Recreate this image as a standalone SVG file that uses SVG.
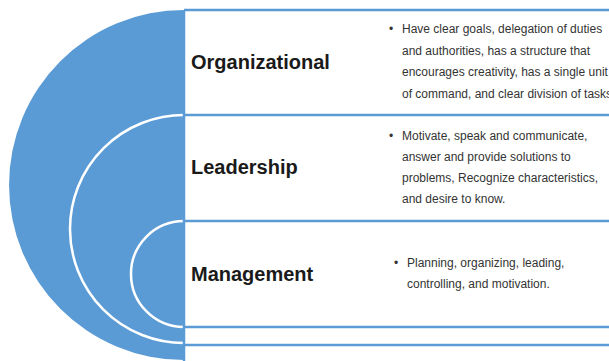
<svg xmlns="http://www.w3.org/2000/svg" width="609" height="361" viewBox="0 0 609 361">
<style>
.title{font-family:"Liberation Sans",Arial,sans-serif;font-size:20px;font-weight:bold;fill:#1a1a1a}
.body{font-family:"Liberation Sans",Arial,sans-serif;font-size:12px;fill:#333333}
.ring{fill:none;stroke:#ffffff;stroke-width:2.5}
.rule{stroke:#5B9BD5;stroke-width:2.5;fill:none}
</style>
<rect width="609" height="361" fill="#ffffff"/>
<g id="disc">
<path d="M184,10 A175,175 0 0 0 184,360 Z" fill="#5B9BD5"/>
<path class="ring" d="M184,115 A114,114 0 0 0 184,343"/>
<path class="ring" d="M184,221 A53,53 0 0 0 184,327"/>
</g>
<g id="connectors">
<line class="rule" x1="184" y1="10" x2="184" y2="361"/>
<line class="rule" x1="184" y1="10" x2="609" y2="10"/>
<line class="rule" x1="184" y1="115" x2="609" y2="115"/>
<line class="rule" x1="184" y1="221" x2="609" y2="221"/>
<line class="rule" x1="184" y1="327" x2="609" y2="327"/>
<line class="rule" x1="184" y1="345" x2="609" y2="345"/>
</g>
<g id="organizational">
<text class="title" x="191" y="69">Organizational</text>
<text class="body" x="389" y="33">•</text>
<text class="body" x="402" y="33">Have clear goals, delegation of duties</text>
<text class="body" x="402" y="54.5">and authorities, has a structure that</text>
<text class="body" x="402" y="76">encourages creativity, has a single unit</text>
<text class="body" x="402" y="97.5">of command, and clear division of tasks</text>
</g>
<g id="leadership">
<text class="title" x="191" y="174">Leadership</text>
<text class="body" x="389" y="140">•</text>
<text class="body" x="402" y="140">Motivate, speak and communicate,</text>
<text class="body" x="402" y="161">answer and provide solutions to</text>
<text class="body" x="402" y="182">problems, Recognize characteristics,</text>
<text class="body" x="402" y="203">and desire to know.</text>
</g>
<g id="management">
<text class="title" x="191" y="281">Management</text>
<text class="body" x="394" y="267">•</text>
<text class="body" x="407" y="267">Planning, organizing, leading,</text>
<text class="body" x="407" y="288">controlling, and motivation.</text>
</g>
</svg>
